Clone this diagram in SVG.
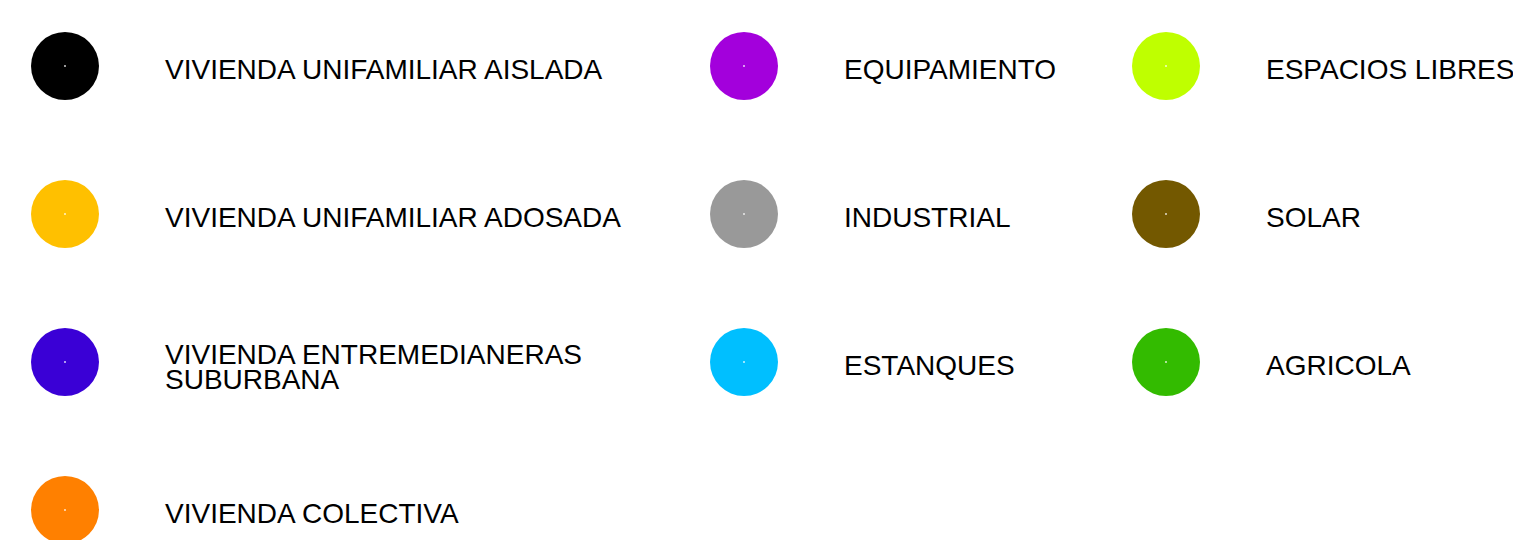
<svg xmlns="http://www.w3.org/2000/svg" width="1513" height="540" viewBox="0 0 1513 540">
<style>
.lbl{font-family:"Liberation Sans",Arial,sans-serif;font-size:28px;fill:#000}
.dot{fill:#fff;opacity:0.8}
</style>
<rect width="1513" height="540" fill="#fff"/>
<g id="vua"><circle cx="65" cy="66" r="34" fill="#000000"/><circle class="dot" cx="65" cy="66" r="1"/><text class="lbl" x="165" y="79">VIVIENDA UNIFAMILIAR AISLADA</text></g>
<g id="vuad"><circle cx="65" cy="214" r="34" fill="#FFC000"/><circle class="dot" cx="65" cy="214" r="1"/><text class="lbl" x="165" y="227">VIVIENDA UNIFAMILIAR ADOSADA</text></g>
<g id="ves"><circle cx="65" cy="362" r="34" fill="#3A00D6"/><circle class="dot" cx="65" cy="362" r="1"/><text class="lbl" x="165" y="364">VIVIENDA ENTREMEDIANERAS<tspan x="165" dy="25">SUBURBANA</tspan></text></g>
<g id="vc"><circle cx="65" cy="510" r="34" fill="#FF8000"/><circle class="dot" cx="65" cy="510" r="1"/><text class="lbl" x="165" y="523">VIVIENDA COLECTIVA</text></g>
<g id="eq"><circle cx="744" cy="66" r="34" fill="#A300DC"/><circle class="dot" cx="744" cy="66" r="1"/><text class="lbl" x="844" y="79">EQUIPAMIENTO</text></g>
<g id="ind"><circle cx="744" cy="214" r="34" fill="#999999"/><circle class="dot" cx="744" cy="214" r="1"/><text class="lbl" x="844" y="227">INDUSTRIAL</text></g>
<g id="est"><circle cx="744" cy="362" r="34" fill="#00BFFF"/><circle class="dot" cx="744" cy="362" r="1"/><text class="lbl" x="844" y="375">ESTANQUES</text></g>
<g id="el"><circle cx="1166" cy="66" r="34" fill="#BFFF00"/><circle class="dot" cx="1166" cy="66" r="1"/><text class="lbl" x="1266" y="79">ESPACIOS LIBRES</text></g>
<g id="sol"><circle cx="1166" cy="214" r="34" fill="#735800"/><circle class="dot" cx="1166" cy="214" r="1"/><text class="lbl" x="1266" y="227">SOLAR</text></g>
<g id="agr"><circle cx="1166" cy="362" r="34" fill="#33BB00"/><circle class="dot" cx="1166" cy="362" r="1"/><text class="lbl" x="1266" y="375">AGRICOLA</text></g>
<g id="connectors"/>
</svg>
